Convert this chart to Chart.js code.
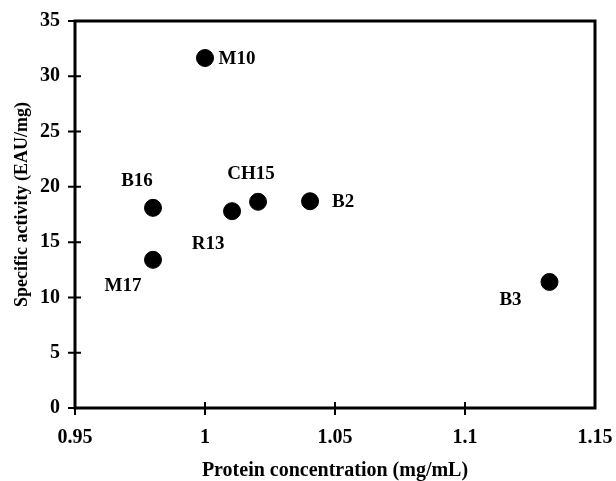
<!DOCTYPE html>
<html>
<head>
<meta charset="utf-8">
<script src="https://cdn.jsdelivr.net/npm/chart.js@4/dist/chart.umd.min.js"></script>
<style>
html,body{margin:0;padding:0;background:#fff;}
#wrap{width:616px;height:481px;}
</style>
</head>
<body>
<div id="wrap"><canvas id="c" width="616" height="481"></canvas></div>
<script>
// Data
const sampleNames = ["M10", "B16", "M17", "R13", "CH15", "B2", "B3"];
const proteinConc = [1.0, 0.98, 0.98, 1.0104, 1.0204, 1.0404, 1.1325];
const specificActivity = [31.65, 18.1, 13.4, 17.8, 18.65, 18.7, 11.4];
const xTicks = [0.95, 1.0, 1.05, 1.1, 1.15];
const xTickLabels = ["0.95", "1", "1.05", "1.1", "1.15"];
const yTicks = [0, 5, 10, 15, 20, 25, 30, 35];
const yTickLabels = ["0", "5", "10", "15", "20", "25", "30", "35"];
const xTitle = 'Protein concentration (mg/mL)';
const yTitle = 'Specific activity (EAU/mg)';

// label placement (pixel offsets from point, style only)
const labelOffsets = [[32, 1], [-16, -27], [-30, 26], [-24, 33], [-7, -28], [33, 1], [-39, 18]];

const FONT = "'Liberation Serif', 'Times New Roman', serif";

const frame = {
  id: 'frame',
  afterDraw(chart) {
    const {ctx, chartArea: a, scales} = chart;
    ctx.save();
    ctx.strokeStyle = '#000';
    ctx.lineWidth = 3;
    ctx.strokeRect(a.left, a.top, a.right - a.left, a.bottom - a.top);
    ctx.lineWidth = 2;
    ctx.beginPath();
    yTicks.forEach(v => {
      const y = scales.y.getPixelForValue(v);
      ctx.moveTo(a.left - 7, y); ctx.lineTo(a.left + 6, y);
    });
    xTicks.forEach((v, i) => {
      if (i === xTicks.length - 1) return;
      const x = scales.x.getPixelForValue(v);
      ctx.moveTo(x, a.bottom - 6); ctx.lineTo(x, a.bottom + 7);
    });
    ctx.stroke();
    // point labels
    ctx.fillStyle = '#000';
    ctx.font = "bold 19px " + FONT;
    ctx.textAlign = 'center';
    ctx.textBaseline = 'middle';
    sampleNames.forEach((n, i) => {
      const x = scales.x.getPixelForValue(proteinConc[i]);
      const y = scales.y.getPixelForValue(specificActivity[i]);
      ctx.fillText(n, x + labelOffsets[i][0], y + labelOffsets[i][1]);
    });
    // y axis title
    ctx.font = "bold 18px " + FONT;
    ctx.translate(22, (a.top + a.bottom) / 2 - 10);
    ctx.rotate(-Math.PI / 2);
    ctx.fillText(yTitle, 0, 0);
    ctx.restore();
  }
};

new Chart(document.getElementById('c'), {
  type: 'scatter',
  data: {
    datasets: [{
      data: proteinConc.map((x, i) => ({x: x, y: specificActivity[i]})),
      backgroundColor: '#000',
      borderColor: '#000',
      pointRadius: 8.5,
      pointHoverRadius: 8.5
    }]
  },
  options: {
    responsive: false,
    animation: false,
    events: [],
    layout: {padding: {top: 21, right: 21, left: 0, bottom: 0}},
    plugins: {legend: {display: false}, tooltip: {enabled: false}},
    scales: {
      x: {
        type: 'linear', min: 0.95, max: 1.15,
        afterBuildTicks(s) { s.ticks = xTicks.map(v => ({value: v})); },
        afterFit(s) { s.height = 481 - 408; s.paddingLeft = 0; s.paddingRight = 0; },
        grid: {display: false, drawTicks: false},
        border: {display: false},
        ticks: {
          color: '#000', padding: 18, maxRotation: 0, autoSkip: false,
          font: {family: FONT, size: 20, weight: 'bold'},
          callback(v, i) { return xTickLabels[i]; }
        },
        title: {display: true, text: xTitle, color: '#000',
          font: {family: FONT, size: 20, weight: 'bold', lineHeight: 1}, padding: {top: 0, bottom: 0}}
      },
      y: {
        type: 'linear', min: 0, max: 35,
        afterBuildTicks(s) { s.ticks = yTicks.map(v => ({value: v})); },
        afterFit(s) { s.width = 75; s.paddingTop = 0; s.paddingBottom = 0; },
        grid: {display: false, drawTicks: false},
        border: {display: false},
        ticks: {
          color: '#000', padding: 15, autoSkip: false,
          font: {family: FONT, size: 20, weight: 'bold'},
          callback(v, i) { return yTickLabels[i]; }
        },
        title: {display: false}
      }
    }
  },
  plugins: [frame]
});
</script>
</body>
</html>
